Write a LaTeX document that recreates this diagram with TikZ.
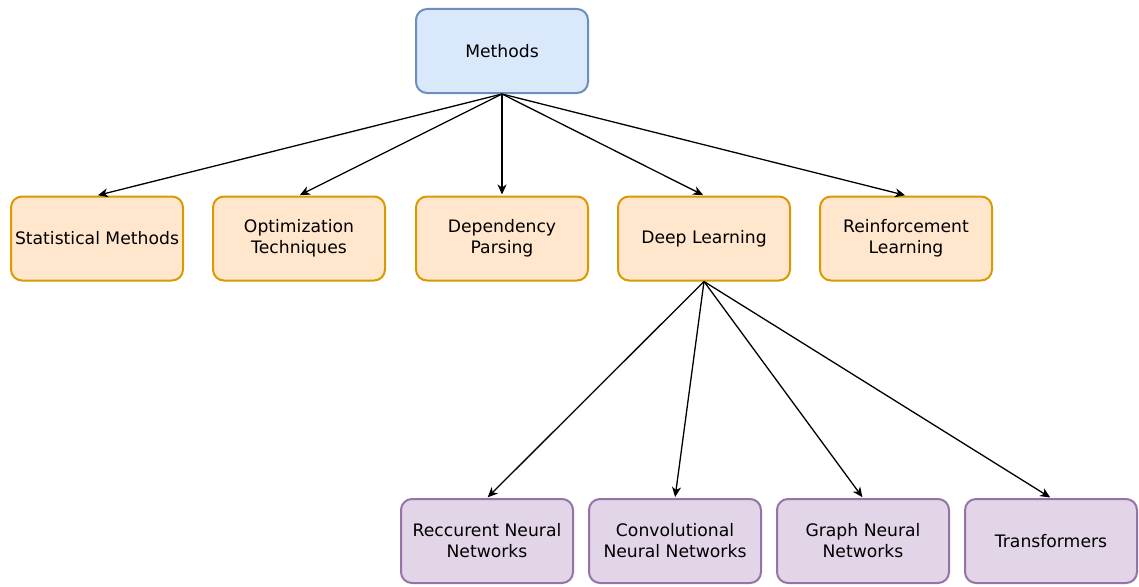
\documentclass[tikz,border=0pt]{standalone}
\usepackage{fontspec}
\setmainfont{DejaVu Sans}
\usetikzlibrary{arrows.meta}
\definecolor{rootfill}{HTML}{DAE8FC}
\definecolor{rootline}{HTML}{6C8EBF}
\definecolor{methfill}{HTML}{FFE6CC}
\definecolor{methline}{HTML}{D79B00}
\definecolor{subfill}{HTML}{E1D5E7}
\definecolor{subline}{HTML}{9673A6}
\tikzstyle{every picture}+=[>={Stealth[length=10pt, width=9pt, inset=3pt]}]
\tikzstyle{box}=[rectangle, rounded corners=11pt, line width=2pt, minimum width=172pt, minimum height=84pt, align=center, font=\fontsize{17.2}{21}\selectfont, inner sep=0pt]
\tikzstyle{rootbox}=[box, draw=rootline, fill=rootfill]
\tikzstyle{methbox}=[box, draw=methline, fill=methfill]
\tikzstyle{subbox}=[box, draw=subline, fill=subfill]
\tikzstyle{link}=[->, line width=1.3pt, shorten >=1pt]

\begin{document}
\begin{tikzpicture}[x=1pt, y=-1pt]
	\useasboundingbox (0,0) rectangle (1139,586) ;
	\node[rootbox] (methods) at (502,51) {Methods} ;
	% first level
	\node[methbox] (stat) at (97,238.5) {Statistical Methods} ;
	\node[methbox] (optim) at (299,238.5) {Optimization\\Techniques} ;
	\node[methbox] (parse) at (502,238.5) {Dependency\\Parsing} ;
	\node[methbox] (deep) at (704,238.5) {Deep Learning} ;
	\node[methbox] (reinf) at (906,238.5) {Reinforcement\\Learning} ;
	% second level
	\node[subbox] (rnn) at (487,541) {Reccurent Neural\\Networks} ;
	\node[subbox] (cnn) at (675,541) {Convolutional\\Neural Networks} ;
	\node[subbox] (gnn) at (863,541) {Graph Neural\\Networks} ;
	\node[subbox] (trans) at (1051,541) {Transformers} ;
	\foreach \n in {stat,optim,parse,deep,reinf}
		\draw[link] (methods.south) -- (\n.north) ;
	\foreach \n in {rnn,cnn,gnn,trans}
		\draw[link] (deep.south) -- (\n.north) ;
\end{tikzpicture}
\end{document}
